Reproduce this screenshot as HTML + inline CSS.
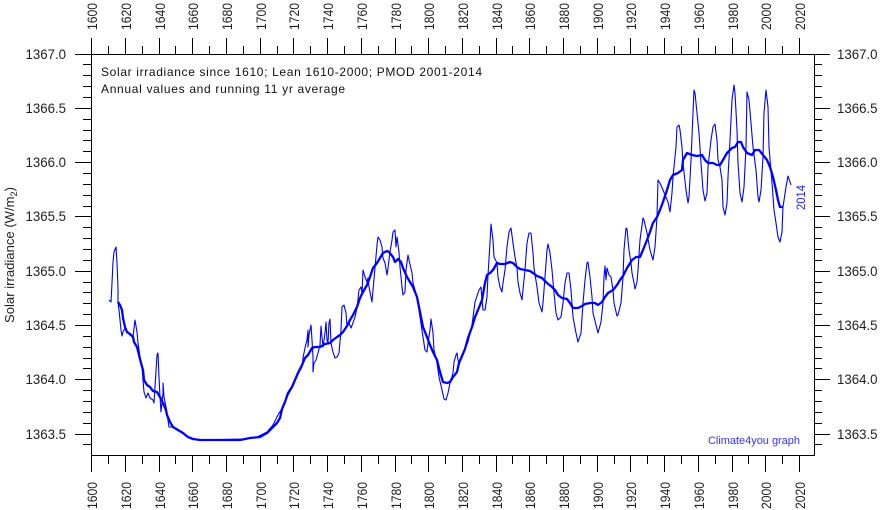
<!DOCTYPE html>
<html><head><meta charset="utf-8"><style>
html,body{margin:0;padding:0;background:#fff;}
svg{display:block;}
text{font-family:"Liberation Sans",Arial,sans-serif;}
</style></head><body>
<svg width="880" height="510" viewBox="0 0 880 510" xmlns="http://www.w3.org/2000/svg">
<rect x="0" y="0" width="880" height="510" fill="#fff"/>
<!-- frame -->
<rect x="91.5" y="54.5" width="723" height="401" fill="#fff" stroke="#000" stroke-width="1" shape-rendering="crispEdges"/>
<g stroke="#000" stroke-width="1" shape-rendering="crispEdges">
<path d="M91.5 38V54M125.5 38V54M159.5 38V54M192.5 38V54M226.5 38V54M260.5 38V54M293.5 38V54M327.5 38V54M361.5 38V54M395.5 38V54M428.5 38V54M462.5 38V54M496.5 38V54M529.5 38V54M563.5 38V54M597.5 38V54M630.5 38V54M664.5 38V54M698.5 38V54M732.5 38V54M765.5 38V54M799.5 38V54"/>
<path d="M108.5 46V54M142.5 46V54M175.5 46V54M209.5 46V54M243.5 46V54M277.5 46V54M310.5 46V54M344.5 46V54M378.5 46V54M411.5 46V54M445.5 46V54M479.5 46V54M512.5 46V54M546.5 46V54M580.5 46V54M614.5 46V54M647.5 46V54M681.5 46V54M715.5 46V54M748.5 46V54M782.5 46V54"/>
<path d="M91.5 456V472M125.5 456V472M159.5 456V472M192.5 456V472M226.5 456V472M260.5 456V472M293.5 456V472M327.5 456V472M361.5 456V472M395.5 456V472M428.5 456V472M462.5 456V472M496.5 456V472M529.5 456V472M563.5 456V472M597.5 456V472M630.5 456V472M664.5 456V472M698.5 456V472M732.5 456V472M765.5 456V472M799.5 456V472"/>
<path d="M108.5 456V464M142.5 456V464M175.5 456V464M209.5 456V464M243.5 456V464M277.5 456V464M310.5 456V464M344.5 456V464M378.5 456V464M411.5 456V464M445.5 456V464M479.5 456V464M512.5 456V464M546.5 456V464M580.5 456V464M614.5 456V464M647.5 456V464M681.5 456V464M715.5 456V464M748.5 456V464M782.5 456V464"/>
<path d="M75 54.5H91M75 108.5H91M75 162.5H91M75 216.5H91M75 271.5H91M75 325.5H91M75 379.5H91M75 434.5H91"/>
<path d="M83 64.5H91M83 75.5H91M83 86.5H91M83 97.5H91M83 119.5H91M83 130.5H91M83 140.5H91M83 151.5H91M83 173.5H91M83 184.5H91M83 195.5H91M83 206.5H91M83 227.5H91M83 238.5H91M83 249.5H91M83 260.5H91M83 282.5H91M83 292.5H91M83 303.5H91M83 314.5H91M83 336.5H91M83 347.5H91M83 358.5H91M83 368.5H91M83 390.5H91M83 401.5H91M83 412.5H91M83 423.5H91M83 444.5H91"/>
<path d="M815 54.5H830M815 108.5H830M815 162.5H830M815 216.5H830M815 271.5H830M815 325.5H830M815 379.5H830M815 434.5H830"/>
<path d="M815 64.5H822M815 75.5H822M815 86.5H822M815 97.5H822M815 119.5H822M815 130.5H822M815 140.5H822M815 151.5H822M815 173.5H822M815 184.5H822M815 195.5H822M815 206.5H822M815 227.5H822M815 238.5H822M815 249.5H822M815 260.5H822M815 282.5H822M815 292.5H822M815 303.5H822M815 314.5H822M815 336.5H822M815 347.5H822M815 358.5H822M815 368.5H822M815 390.5H822M815 401.5H822M815 412.5H822M815 423.5H822M815 444.5H822"/>
</g>

<g fill="#222" font-size="14" text-anchor="end">
<text x="66" y="59" textLength="40.5" lengthAdjust="spacingAndGlyphs">1367.0</text>
<text x="66" y="113" textLength="40.5" lengthAdjust="spacingAndGlyphs">1366.5</text>
<text x="66" y="167" textLength="40.5" lengthAdjust="spacingAndGlyphs">1366.0</text>
<text x="66" y="221" textLength="40.5" lengthAdjust="spacingAndGlyphs">1365.5</text>
<text x="66" y="276" textLength="40.5" lengthAdjust="spacingAndGlyphs">1365.0</text>
<text x="66" y="330" textLength="40.5" lengthAdjust="spacingAndGlyphs">1364.5</text>
<text x="66" y="384" textLength="40.5" lengthAdjust="spacingAndGlyphs">1364.0</text>
<text x="66" y="439" textLength="40.5" lengthAdjust="spacingAndGlyphs">1363.5</text>
</g>
<g fill="#222" font-size="14">
<text x="837" y="59" textLength="40.5" lengthAdjust="spacingAndGlyphs">1367.0</text>
<text x="837" y="113" textLength="40.5" lengthAdjust="spacingAndGlyphs">1366.5</text>
<text x="837" y="167" textLength="40.5" lengthAdjust="spacingAndGlyphs">1366.0</text>
<text x="837" y="221" textLength="40.5" lengthAdjust="spacingAndGlyphs">1365.5</text>
<text x="837" y="276" textLength="40.5" lengthAdjust="spacingAndGlyphs">1365.0</text>
<text x="837" y="330" textLength="40.5" lengthAdjust="spacingAndGlyphs">1364.5</text>
<text x="837" y="384" textLength="40.5" lengthAdjust="spacingAndGlyphs">1364.0</text>
<text x="837" y="439" textLength="40.5" lengthAdjust="spacingAndGlyphs">1363.5</text>
</g>

<g fill="#222" font-size="14">
<text transform="translate(97,30) rotate(-90)" textLength="27" lengthAdjust="spacingAndGlyphs">1600</text>
<text transform="translate(131,30) rotate(-90)" textLength="27" lengthAdjust="spacingAndGlyphs">1620</text>
<text transform="translate(165,30) rotate(-90)" textLength="27" lengthAdjust="spacingAndGlyphs">1640</text>
<text transform="translate(198,30) rotate(-90)" textLength="27" lengthAdjust="spacingAndGlyphs">1660</text>
<text transform="translate(232,30) rotate(-90)" textLength="27" lengthAdjust="spacingAndGlyphs">1680</text>
<text transform="translate(266,30) rotate(-90)" textLength="27" lengthAdjust="spacingAndGlyphs">1700</text>
<text transform="translate(299,30) rotate(-90)" textLength="27" lengthAdjust="spacingAndGlyphs">1720</text>
<text transform="translate(333,30) rotate(-90)" textLength="27" lengthAdjust="spacingAndGlyphs">1740</text>
<text transform="translate(367,30) rotate(-90)" textLength="27" lengthAdjust="spacingAndGlyphs">1760</text>
<text transform="translate(401,30) rotate(-90)" textLength="27" lengthAdjust="spacingAndGlyphs">1780</text>
<text transform="translate(434,30) rotate(-90)" textLength="27" lengthAdjust="spacingAndGlyphs">1800</text>
<text transform="translate(468,30) rotate(-90)" textLength="27" lengthAdjust="spacingAndGlyphs">1820</text>
<text transform="translate(502,30) rotate(-90)" textLength="27" lengthAdjust="spacingAndGlyphs">1840</text>
<text transform="translate(535,30) rotate(-90)" textLength="27" lengthAdjust="spacingAndGlyphs">1860</text>
<text transform="translate(569,30) rotate(-90)" textLength="27" lengthAdjust="spacingAndGlyphs">1880</text>
<text transform="translate(603,30) rotate(-90)" textLength="27" lengthAdjust="spacingAndGlyphs">1900</text>
<text transform="translate(636,30) rotate(-90)" textLength="27" lengthAdjust="spacingAndGlyphs">1920</text>
<text transform="translate(670,30) rotate(-90)" textLength="27" lengthAdjust="spacingAndGlyphs">1940</text>
<text transform="translate(704,30) rotate(-90)" textLength="27" lengthAdjust="spacingAndGlyphs">1960</text>
<text transform="translate(738,30) rotate(-90)" textLength="27" lengthAdjust="spacingAndGlyphs">1980</text>
<text transform="translate(771,30) rotate(-90)" textLength="27" lengthAdjust="spacingAndGlyphs">2000</text>
<text transform="translate(805,30) rotate(-90)" textLength="27" lengthAdjust="spacingAndGlyphs">2020</text>
</g>
<g fill="#222" font-size="14">
<text transform="translate(97,509) rotate(-90)" textLength="27" lengthAdjust="spacingAndGlyphs">1600</text>
<text transform="translate(131,509) rotate(-90)" textLength="27" lengthAdjust="spacingAndGlyphs">1620</text>
<text transform="translate(165,509) rotate(-90)" textLength="27" lengthAdjust="spacingAndGlyphs">1640</text>
<text transform="translate(198,509) rotate(-90)" textLength="27" lengthAdjust="spacingAndGlyphs">1660</text>
<text transform="translate(232,509) rotate(-90)" textLength="27" lengthAdjust="spacingAndGlyphs">1680</text>
<text transform="translate(266,509) rotate(-90)" textLength="27" lengthAdjust="spacingAndGlyphs">1700</text>
<text transform="translate(299,509) rotate(-90)" textLength="27" lengthAdjust="spacingAndGlyphs">1720</text>
<text transform="translate(333,509) rotate(-90)" textLength="27" lengthAdjust="spacingAndGlyphs">1740</text>
<text transform="translate(367,509) rotate(-90)" textLength="27" lengthAdjust="spacingAndGlyphs">1760</text>
<text transform="translate(401,509) rotate(-90)" textLength="27" lengthAdjust="spacingAndGlyphs">1780</text>
<text transform="translate(434,509) rotate(-90)" textLength="27" lengthAdjust="spacingAndGlyphs">1800</text>
<text transform="translate(468,509) rotate(-90)" textLength="27" lengthAdjust="spacingAndGlyphs">1820</text>
<text transform="translate(502,509) rotate(-90)" textLength="27" lengthAdjust="spacingAndGlyphs">1840</text>
<text transform="translate(535,509) rotate(-90)" textLength="27" lengthAdjust="spacingAndGlyphs">1860</text>
<text transform="translate(569,509) rotate(-90)" textLength="27" lengthAdjust="spacingAndGlyphs">1880</text>
<text transform="translate(603,509) rotate(-90)" textLength="27" lengthAdjust="spacingAndGlyphs">1900</text>
<text transform="translate(636,509) rotate(-90)" textLength="27" lengthAdjust="spacingAndGlyphs">1920</text>
<text transform="translate(670,509) rotate(-90)" textLength="27" lengthAdjust="spacingAndGlyphs">1940</text>
<text transform="translate(704,509) rotate(-90)" textLength="27" lengthAdjust="spacingAndGlyphs">1960</text>
<text transform="translate(738,509) rotate(-90)" textLength="27" lengthAdjust="spacingAndGlyphs">1980</text>
<text transform="translate(771,509) rotate(-90)" textLength="27" lengthAdjust="spacingAndGlyphs">2000</text>
<text transform="translate(805,509) rotate(-90)" textLength="27" lengthAdjust="spacingAndGlyphs">2020</text>
</g>

<text transform="translate(14,323) rotate(-90)" font-size="13" fill="#222" textLength="136" lengthAdjust="spacingAndGlyphs">Solar irradiance (W/m<tspan font-size="9" dy="3">2</tspan><tspan dy="-3">)</tspan></text>

<text x="101" y="76" font-size="12" fill="#111" textLength="381" lengthAdjust="spacing">Solar irradiance since 1610; Lean 1610-2000; PMOD 2001-2014</text>
<text x="101" y="93" font-size="12" fill="#111" textLength="244" lengthAdjust="spacing">Annual values and running 11 yr average</text>

<polyline fill="none" stroke="#0000ff" stroke-width="1.1" stroke-linejoin="round" points="109,300 111,302 112,283 113,262 114,252 116,247 117,263 118,288 118,302 119,310 121,330 122,336 123,332 125,328 127,332 130,335 133,337 135,320 137,332 138,343 140,357 142,367 143,380 144,392 146,398 148,393 150,398 153,400 154,403 155,387 157,355 158,353 159,377 160,397 161,412 163,393 163,383 164,397 166,407 168,420 169,427 172,427 177,430 182,433 187,437 192,439 197,440 243,439 257,437 267,432 273,425 279,413 282,409 285,402 288,395 292,388 295,381 298,374 302,367 303,358 305,348 307,340 308,330 308,347 309,335 311,325 312,340 313,357 313,372 314,363 316,360 318,353 320,345 321,326 322,337 323,347 325,333 326,322 327,340 328,343 329,323 330,319 331,343 333,352 335,358 337,357 339,353 341,330 342,307 344,305 346,313 347,327 349,323 351,328 353,323 355,317 357,308 359,290 361,287 362,293 363,270 365,277 367,282 368,278 369,287 371,297 372,302 373,290 375,268 377,245 378,237 380,240 382,247 383,258 385,263 387,275 388,268 390,252 392,240 393,232 395,230 396,247 397,237 399,252 400,267 402,287 403,295 405,292 406,270 408,255 409,260 412,273 413,283 417,297 420,317 423,337 425,350 427,352 428,343 430,330 431,319 433,333 434,350 437,363 439,377 442,390 444,399 446,400 448,393 450,383 453,373 454,362 456,355 457,353 458,360 459,363 465,349 468,342 472,325 475,302 478,293 479,290 481,287 482,300 483,310 485,310 487,297 488,275 490,243 491,224 493,240 494,257 497,263 498,277 500,287 502,292 503,283 505,270 507,247 509,232 511,228 513,243 515,257 517,268 518,282 520,293 522,300 523,290 525,270 527,243 529,233 531,233 533,253 534,268 537,287 539,303 542,312 543,303 545,277 547,250 548,244 550,253 552,270 554,293 556,313 558,320 561,317 563,303 565,283 567,273 569,273 571,290 573,317 576,333 578,342 581,333 583,303 585,280 587,263 588,262 590,277 592,297 593,313 596,325 598,333 601,322 603,303 604,277 605,266 606,280 607,268 609,275 611,277 613,290 614,303 617,316 618,315 621,303 623,277 624,250 626,228 627,229 629,250 631,263 632,273 634,283 635,289 637,282 638,270 640,240 643,218 644,220 647,233 650,250 653,260 655,247 657,217 658,180 660,183 663,190 665,195 668,202 670,212 672,193 673,177 676,147 677,127 679,125 680,130 682,147 683,163 686,190 688,203 689,197 691,160 693,113 694,90 695,93 697,113 699,133 701,163 703,190 705,201 707,193 708,167 711,140 713,127 715,124 717,140 718,160 720,167 722,180 723,207 725,215 727,203 728,177 730,140 732,100 734,85 735,93 737,130 738,163 740,193 742,202 744,187 746,147 747,92 749,100 751,123 753,147 756,170 758,197 759,202 761,190 763,157 764,113 766,90 768,107 769,147 772,183 774,210 776,223 778,237 780,242 782,232 783,207 786,187 788,176 789,179 791,185"/>

<polyline fill="none" stroke="#0000ff" stroke-width="2.3" stroke-linejoin="round" points="118,302 120,305 122,310 123,318 125,327 127,332 130,334 133,337 134,342 137,347 139,355 141,363 143,370 144,380 147,385 150,387 153,391 157,392 160,397 163,403 166,410 167,415 170,422 173,427 178,430 183,433 188,437 193,439 200,440 240,440 250,438 260,437 267,433 272,428 277,423 280,418 282,409 285,402 288,393 292,387 295,380 298,373 302,365 305,358 308,355 312,348 315,347 320,347 325,344 330,343 333,340 337,337 340,335 343,332 347,326 350,320 353,315 357,307 360,298 363,292 367,285 370,277 373,268 377,263 380,258 383,253 387,251 389,252 393,257 395,262 398,259 401,262 403,268 407,277 410,282 413,287 417,297 420,312 423,327 427,337 430,345 433,352 437,360 440,372 443,382 447,383 450,382 453,377 457,372 459,363 465,349 468,338 472,327 475,317 478,310 482,300 485,283 487,275 490,273 493,270 497,263 500,264 505,264 510,262 513,263 517,267 520,269 525,270 530,271 533,273 537,276 542,278 547,283 552,287 555,290 558,295 562,298 567,299 570,303 573,308 578,308 582,306 585,304 590,303 595,303 598,305 602,302 605,297 608,293 613,290 617,285 620,280 623,276 627,268 632,260 636,257 640,257 643,250 647,240 650,232 653,223 657,217 660,210 663,202 667,190 670,180 673,175 678,173 682,170 683,160 687,153 692,155 697,156 702,155 705,160 708,163 713,163 717,165 720,165 723,160 727,153 732,148 735,147 738,142 741,142 743,147 747,153 752,155 755,150 759,150 763,155 767,160 770,167 773,177 776,190 778,200 780,207 783,207"/>

<text transform="translate(805,210) rotate(-90)" font-size="12" fill="#2020ff" textLength="25" lengthAdjust="spacingAndGlyphs">2014</text>
<text x="708" y="444" font-size="11" fill="#3333ff" textLength="92" lengthAdjust="spacing">Climate4you graph</text>
</svg>
</body></html>
